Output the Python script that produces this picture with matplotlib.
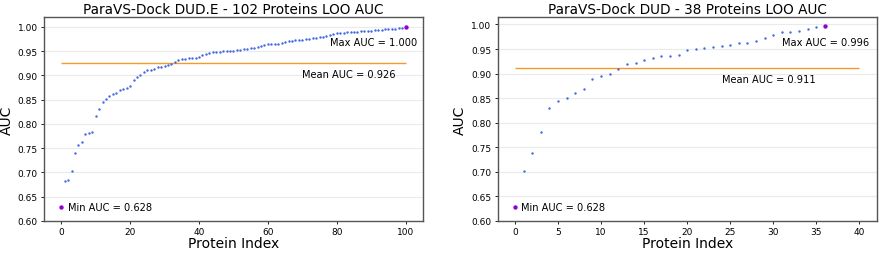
import numpy as np
import matplotlib
matplotlib.use('Agg')
import matplotlib.pyplot as plt

# LOO AUC per protein, sorted ascending
dude_auc = [0.628, 0.682, 0.684, 0.702, 0.739, 0.756, 0.762, 0.779, 0.782, 0.783,
            0.817, 0.830, 0.845, 0.852, 0.858, 0.862, 0.863, 0.869, 0.871, 0.873,
            0.878, 0.891, 0.897, 0.900, 0.907, 0.910, 0.910, 0.914, 0.917, 0.918,
            0.919, 0.921, 0.923, 0.927, 0.932, 0.933, 0.934, 0.935, 0.936, 0.936,
            0.937, 0.942, 0.944, 0.947, 0.948, 0.948, 0.949, 0.950, 0.950, 0.951,
            0.951, 0.952, 0.953, 0.954, 0.955, 0.956, 0.957, 0.958, 0.960, 0.963,
            0.964, 0.964, 0.964, 0.965, 0.966, 0.968, 0.970, 0.971, 0.972, 0.972,
            0.973, 0.974, 0.975, 0.976, 0.977, 0.978, 0.979, 0.981, 0.983, 0.985,
            0.987, 0.988, 0.988, 0.989, 0.989, 0.990, 0.990, 0.991, 0.991, 0.991,
            0.992, 0.993, 0.993, 0.994, 0.995, 0.995, 0.996, 0.996, 0.997, 0.998,
            1.000]
dud_auc = [0.628, 0.701, 0.739, 0.781, 0.830, 0.845, 0.850, 0.861, 0.868, 0.889,
           0.896, 0.900, 0.909, 0.919, 0.922, 0.927, 0.931, 0.936, 0.936, 0.937,
           0.947, 0.950, 0.953, 0.955, 0.957, 0.958, 0.963, 0.963, 0.966, 0.973,
           0.979, 0.985, 0.985, 0.987, 0.991, 0.995, 0.996]

dude_mean = 0.926
dud_mean = 0.911
dude_title = 'ParaVS-Dock DUD.E - 102 Proteins LOO AUC'
dud_title = 'ParaVS-Dock DUD - 38 Proteins LOO AUC'


def plot_auc(ax, auc, mean_auc, title, line_end, mean_x, max_x, ytop):
    auc = np.array(auc)
    idx = np.arange(len(auc))
    ax.scatter(idx[1:-1], auc[1:-1], s=3, color='royalblue', linewidths=0, zorder=3)
    ax.scatter([idx[0], idx[-1]], [auc[0], auc[-1]], s=10, color='darkviolet',
               linewidths=0, zorder=4)
    ax.hlines(mean_auc, 0, line_end, color='#f39a2a', linewidth=1.0)

    ax.annotate('Min AUC = %.3f' % auc[0], (idx[0], auc[0]), xytext=(4.5, 0),
                textcoords='offset points', va='center', fontsize=7.1)
    ax.text(max_x, auc[-1] - 0.032, 'Max AUC = %.3f' % auc[-1], va='center', fontsize=7.1)
    ax.text(mean_x, mean_auc - 0.023, 'Mean AUC = %.3f' % mean_auc, va='center', fontsize=7.1)

    ax.set_title(title, fontsize=9.8, pad=3)
    ax.set_xlabel('Protein Index', fontsize=10, labelpad=0)
    ax.set_ylabel('AUC', fontsize=10, labelpad=3)
    ax.set_ylim(0.6, ytop)
    ax.set_yticks(np.arange(0.6, 1.001, 0.05))
    ax.tick_params(labelsize=6.5, length=2.5, width=0.6, pad=2)
    ax.grid(axis='y', color='#ebebeb', linewidth=0.8)
    ax.set_axisbelow(True)
    for s in ax.spines.values():
        s.set_color('#555555')
        s.set_linewidth(1.0)


fig = plt.figure(figsize=(8.81, 2.55), dpi=100)
ax1 = fig.add_axes([0.050, 0.130, 0.430, 0.799])
ax2 = fig.add_axes([0.565, 0.130, 0.430, 0.799])

plot_auc(ax1, dude_auc, dude_mean, dude_title, 100, 70, 78, 1.02)
plot_auc(ax2, dud_auc, dud_mean, dud_title, 40, 24, 31, 1.015)

plt.savefig('out.png', dpi=100)
